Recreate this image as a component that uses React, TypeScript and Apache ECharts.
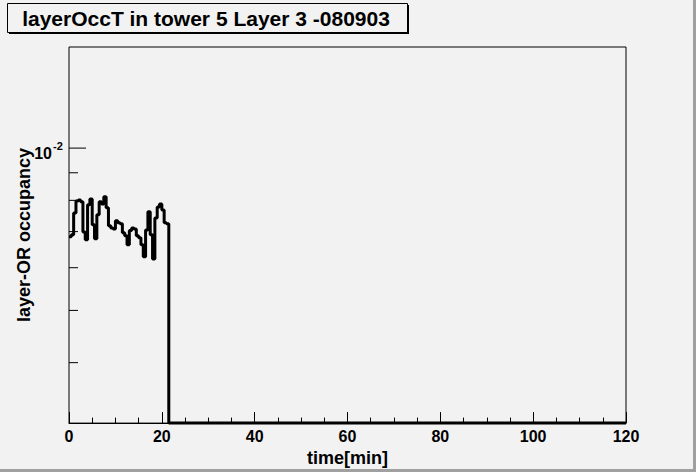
import React, { useEffect, useRef } from "react";
import * as echarts from "echarts";

// histogram: 0.5 min bins, filled from t = 0 to 21.5 min, empty afterwards
const BIN_WIDTH = 0.5;
const OCCUPANCY = [
  0.00685, 0.00691, 0.00758, 0.00798, 0.00801, 0.00795, 0.00699, 0.00676,
  0.00785, 0.00805, 0.00721, 0.00679, 0.00752, 0.00795, 0.00788, 0.00812,
  0.00775, 0.00718, 0.00711, 0.00708, 0.00733, 0.00727, 0.00724, 0.00697,
  0.00688, 0.00662, 0.00703, 0.00711, 0.00708, 0.00688, 0.00682, 0.00662,
  0.00629, 0.00705, 0.00762, 0.00691, 0.00623, 0.00742, 0.00778, 0.00788,
  0.00768, 0.00727, 0.00724,
];
const X_MIN = 0;
const X_MAX = 120;
const X_TICKS = [0, 20, 40, 60, 80, 100, 120];
const Y_MIN = 0.00309;
const Y_MAX = 0.0154;
const Y_TICKS = [0.004, 0.005, 0.006, 0.007, 0.008, 0.009, 0.01];
const Y_MAJOR = 0.01;

const TITLE = "layerOccT in tower 5 Layer 3 -080903";
const X_TITLE = "time[min]";
const Y_TITLE = "layer-OR occupancy";

const FONT = "'Liberation Sans', Arial, Helvetica, sans-serif";
const BG = "#f2f2f2";

export default function App() {
  const chartRef = useRef<HTMLDivElement>(null);

  useEffect(() => {
    if (!chartRef.current) return;
    const chart = echarts.init(chartRef.current, null, { renderer: "svg" });

    // empty bins sit on the bottom of the log frame, as ROOT draws them
    const onLog = (v: number) => (v > 0 ? v : Y_MIN);
    const histData: number[][] = OCCUPANCY.map((v, i) => [X_MIN + i * BIN_WIDTH, onLog(v)]);
    const emptyFrom = X_MIN + OCCUPANCY.length * BIN_WIDTH;
    histData.push([emptyFrom, onLog(0)]);
    histData.push([X_MAX, onLog(0)]);

    chart.setOption({
      animation: false,
      backgroundColor: BG,
      grid: {
        left: 69,
        right: 70,
        top: 47,
        bottom: 48,
        show: true,
        borderColor: "#000",
        borderWidth: 1,
        backgroundColor: "transparent",
      },
      xAxis: {
        type: "value",
        min: X_MIN,
        max: X_MAX,
        interval: X_TICKS[1] - X_TICKS[0],
        name: X_TITLE,
        nameLocation: "middle",
        nameGap: 22,
        nameTextStyle: { color: "#000", fontFamily: FONT, fontWeight: "bold", fontSize: 18 },
        axisLine: { show: true, lineStyle: { color: "#000", width: 1 } },
        axisTick: { show: true, inside: true, length: 11, lineStyle: { color: "#000" } },
        minorTick: { show: true, splitNumber: 4, length: 5.5, lineStyle: { color: "#000" } },
        axisLabel: {
          color: "#000",
          fontFamily: FONT,
          fontWeight: "bold",
          fontSize: 16,
          margin: 5,
          showMinLabel: true,
          showMaxLabel: true,
        },
        splitLine: { show: false },
      },
      yAxis: {
        type: "log",
        logBase: 10,
        min: Y_MIN,
        max: Y_MAX,
        name: Y_TITLE,
        nameLocation: "middle",
        nameRotate: 90,
        nameGap: 36,
        nameTextStyle: { color: "#000", fontFamily: FONT, fontWeight: "bold", fontSize: 18 },
        axisLine: { show: false },
        axisTick: { show: false },
        axisLabel: { show: false },
        splitLine: { show: false },
      },
      graphic: [
        { type: "rect", left: 693, top: 0, shape: { width: 3, height: 472 }, style: { fill: "#a0a0a0" } },
        { type: "rect", left: 0, top: 469, shape: { width: 696, height: 3 }, style: { fill: "#a0a0a0" } },
        { type: "rect", left: 9, top: 5, shape: { width: 400, height: 29 }, style: { fill: "#000" } },
        {
          type: "rect",
          left: 7,
          top: 3,
          shape: { width: 400, height: 29 },
          style: { fill: BG, stroke: "#000", lineWidth: 1 },
        },
        {
          type: "text",
          x: 206,
          y: 18,
          style: {
            text: TITLE,
            fill: "#000",
            font: `bold 21px ${FONT}`,
            align: "center",
            verticalAlign: "middle",
          },
        },
      ],
      series: [
        {
          type: "custom",
          coordinateSystem: "cartesian2d",
          silent: true,
          z: 1,
          data: Y_TICKS.map((v) => [X_MIN, v]),
          renderItem: (_params: any, api: any) => {
            const v = api.value(1);
            const p = api.coord([X_MIN, v]);
            const major = Math.abs(v - Y_MAJOR) < 1e-9;
            const children: any[] = [
              {
                type: "line",
                shape: { x1: p[0], y1: p[1], x2: p[0] + (major ? 17 : 9), y2: p[1] },
                style: { stroke: "#000", lineWidth: 1 },
              },
            ];
            if (major) {
              children.push({
                type: "text",
                x: p[0] - 17,
                y: p[1] + 5,
                style: {
                  text: "10",
                  fill: "#000",
                  font: `bold 16px ${FONT}`,
                  align: "right",
                  verticalAlign: "middle",
                },
              });
              children.push({
                type: "text",
                x: p[0] - 16,
                y: p[1] - 2,
                style: {
                  text: String(Math.round(Math.log10(v))),
                  fill: "#000",
                  font: `bold 11px ${FONT}`,
                  align: "left",
                  verticalAlign: "middle",
                },
              });
            }
            return { type: "group", children };
          },
        },
        {
          type: "line",
          step: "end",
          data: histData,
          showSymbol: false,
          clip: false,
          z: 3,
          lineStyle: { color: "#000", width: 3 },
        },
      ],
    });

    return () => {
      chart.dispose();
    };
  }, []);

  return (
    <div
      ref={chartRef}
      style={{ position: "absolute", left: 0, top: 0, width: 696, height: 472, background: BG }}
    />
  );
}
